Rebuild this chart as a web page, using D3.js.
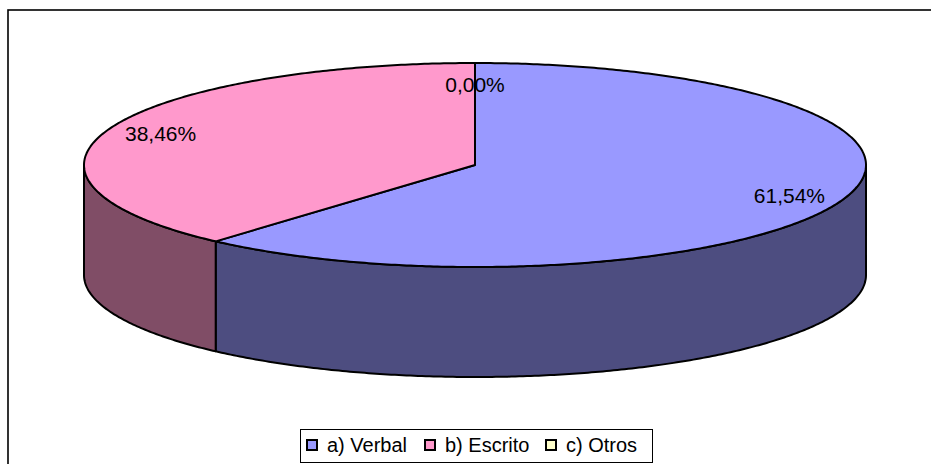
<!DOCTYPE html>
<html>
<head>
<meta charset="utf-8">
<script src="https://cdn.jsdelivr.net/npm/d3@7"></script>
<style>
  html, body { margin: 0; padding: 0; background: #fff; }
  svg { display: block; }
  text { font-family: Arial, "Liberation Sans", sans-serif; fill: #000; }
</style>
</head>
<body>
<svg id="chart" width="931" height="464"></svg>
<script>
const categories = ["a) Verbal", "b) Escrito", "c) Otros"];
const values = [61.54, 38.46, 0.00];
const labels = ["61,54%", "38,46%", "0,00%"];
const topColors = ["#9999FF", "#FF99CC", "#FFFFCC"];
const sideColors = ["#4D4D80", "#804D66", "#80805E"];

const svg = d3.select("#chart");

// outer frame (extends beyond the right and bottom edges)
svg.append("rect")
  .attr("x", 8).attr("y", 10).attr("width", 1000).attr("height", 600)
  .attr("fill", "#fff").attr("stroke", "#000").attr("stroke-width", 1.6);

const cx = 475, cy = 165, rx = 391, ry = 102, depth = 110;
const proj = (a, z) => [cx + rx * Math.sin(a), cy - ry * Math.cos(a) + z];

const arcs = d3.pie().sort(null).value(d => d)(values);

function arcPoints(a0, a1, z) {
  const n = Math.max(2, Math.ceil(Math.abs(a1 - a0) / 0.01));
  return d3.range(n + 1).map(i => proj(a0 + (a1 - a0) * i / n, z));
}

const line = d3.line();
const g = svg.append("g");

// front side faces
arcs.forEach((d, i) => {
  const a0 = Math.max(d.startAngle, Math.PI / 2);
  const a1 = Math.min(d.endAngle, 3 * Math.PI / 2);
  if (a1 - a0 <= 1e-6) return;
  const pts = arcPoints(a0, a1, 0).concat(arcPoints(a1, a0, depth));
  g.append("path")
    .attr("d", line(pts) + "Z")
    .attr("fill", sideColors[i])
    .attr("stroke", "#000").attr("stroke-width", 2)
    .attr("stroke-linejoin", "round");
});

// top faces
arcs.forEach((d, i) => {
  if (d.endAngle - d.startAngle <= 1e-6) return;
  const pts = [[cx, cy]].concat(arcPoints(d.startAngle, d.endAngle, 0));
  g.append("path")
    .attr("d", line(pts) + "Z")
    .attr("fill", topColors[i])
    .attr("stroke", "#000").attr("stroke-width", 2)
    .attr("stroke-linejoin", "round");
});

// data labels
const f = 0.86;
arcs.forEach((d, i) => {
  const mid = (d.startAngle + d.endAngle) / 2;
  let [x, y] = [cx + rx * f * Math.sin(mid), cy - ry * f * Math.cos(mid)];
  if (d.endAngle - d.startAngle <= 1e-6) y = cy - ry * 0.78;
  svg.append("text")
    .attr("x", x).attr("y", y + 7)
    .attr("text-anchor", "middle")
    .attr("font-size", 21)
    .text(labels[i]);
});

// legend
const legend = svg.append("g");
legend.append("rect")
  .attr("x", 300.5).attr("y", 429.5).attr("width", 352).attr("height", 33)
  .attr("fill", "#fff").attr("stroke", "#000").attr("stroke-width", 1);
const legendX = [307, 425, 546];
categories.forEach((c, i) => {
  legend.append("rect")
    .attr("x", legendX[i]).attr("y", 440).attr("width", 10).attr("height", 10)
    .attr("fill", topColors[i]).attr("stroke", "#000").attr("stroke-width", 2);
  legend.append("text")
    .attr("x", legendX[i] + 20).attr("y", 452)
    .attr("font-size", 20)
    .text(c);
});
</script>
</body>
</html>
